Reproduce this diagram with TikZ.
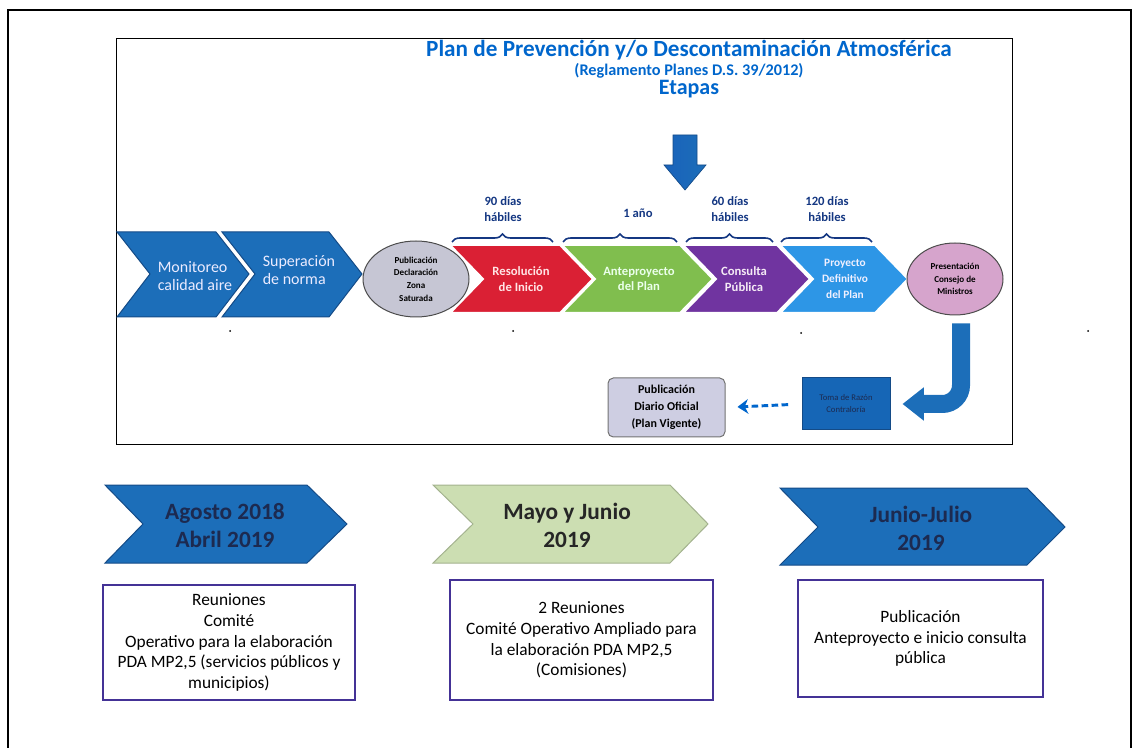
\documentclass[tikz,border=0pt]{standalone}
\usepackage{fontspec}
\setmainfont{Carlito}
\usetikzlibrary{shapes.geometric,arrows.meta,decorations.pathreplacing,calc}

\definecolor{titleblue}{RGB}{0,102,204}
\definecolor{bracenavy}{RGB}{20,55,130}
\definecolor{chevblue}{RGB}{28,110,185}
\definecolor{chevline}{RGB}{20,75,135}
\definecolor{resred}{RGB}{218,32,52}
\definecolor{antgreen}{RGB}{128,190,78}
\definecolor{conpurple}{RGB}{112,52,160}
\definecolor{proyblue}{RGB}{45,150,230}
\definecolor{zonagray}{RGB}{198,198,212}
\definecolor{prespink}{RGB}{214,164,204}
\definecolor{tomablue}{RGB}{22,102,182}
\definecolor{diariogray}{RGB}{206,206,226}
\definecolor{mayogreen}{RGB}{204,222,178}
\definecolor{boxnavy}{RGB}{68,50,150}
\definecolor{datenavy}{RGB}{28,42,80}

\tikzset{every picture/.style={line width=0.75pt}}
\tikzset{
  bigchev/.style={fill=chevblue, draw=chevline, line width=0.75},
  smallchev/.style={draw=white, line width=1.5},
  bigtext/.style={align=left, inner sep=0, text=blue!8, font=\fontsize{12}{13}\selectfont},
  smalltext/.style={align=center, inner sep=0, font=\bfseries\fontsize{9.5}{11.5}\selectfont},
  bracelbl/.style={align=center, inner sep=0, text=bracenavy, font=\bfseries\fontsize{9.5}{11.5}\selectfont},
  bracemark/.style={draw=bracenavy, line width=1.2, decorate, decoration={brace, amplitude=6pt}},
  ovaltext/.style={ellipse, draw=black!70, line width=0.75, inner sep=0, align=center, font=\bfseries\fontsize{6.8}{9.5}\selectfont},
  datetext/.style={align=center, inner sep=0, font=\bfseries\fontsize{17.5}{21}\selectfont},
  notebox/.style={draw=boxnavy, line width=1.5, fill=white, align=center, inner sep=0, font=\fontsize{13}{15.6}\selectfont}
}

\begin{document}
\begin{tikzpicture}[x=0.75pt,y=0.75pt,yscale=-1,xscale=1]
\useasboundingbox (0,0) rectangle (1139,748);

%Outer frame
\draw [line width=1.5]  (8,748) -- (8,10) -- (1131,10) -- (1131,748) ;
%Shape: Rectangle (inner frame)
\draw   (116,39) -- (1012,39) -- (1012,445) -- (116,445) -- cycle ;

% Text Node
\node [text=titleblue, font=\bfseries\fontsize{17.4}{20}\selectfont] (title) at (689,50) {Plan de Prevención y/o Descontaminación Atmosférica};
% Text Node
\node [text=titleblue, font=\bfseries\fontsize{12.2}{14}\selectfont] (regla) at (689,71) {(Reglamento Planes D.S. 39/2012)};
% Text Node
\node [text=titleblue, font=\bfseries\fontsize{16.5}{19}\selectfont] (etapas) at (689,89) {Etapas};

%Shape: Down Arrow
\shade [left color=blue!55!cyan!70!black!90, right color=chevblue, draw=chevline, line width=0.5] (673,135) -- (697,135) -- (697,165) -- (706,165) -- (685,190) -- (664,165) -- (673,165) -- cycle ;

%Shape: Chevron
\draw [bigchev] (117,232) -- (216,232) -- (249,274) -- (216,317) -- (117,317) -- (150,274) -- cycle ;
%Shape: Chevron
\draw [bigchev] (222,232) -- (329,232) -- (362,274) -- (329,317) -- (222,317) -- (255,274) -- cycle ;
% Text Node
\node [bigtext] (monit) at (195,276) {Monitoreo\\calidad aire};
% Text Node
\node [bigtext] (super) at (299,270) {Superación\\de norma};

%Shape: Ellipse
\node [ovaltext, fill=zonagray, minimum width=79.5pt, minimum height=57pt] (zona) at (416,279) {Publicación\\Declaración\\Zona\\Saturada};

%Shape: Chevron
\draw [smallchev, fill=resred] (450,245) -- (560,245) -- (593,279) -- (560,313) -- (450,313) -- (483,279) -- cycle ;
%Shape: Chevron
\draw [smallchev, fill=antgreen] (562,245) -- (680,245) -- (713,279) -- (680,313) -- (562,313) -- (595,279) -- cycle ;
%Shape: Chevron
\draw [smallchev, fill=conpurple] (683,245) -- (777,245) -- (810,279) -- (777,313) -- (683,313) -- (716,279) -- cycle ;
%Shape: Chevron
\draw [smallchev, fill=proyblue] (780,245) -- (875,245) -- (908,279) -- (875,313) -- (780,313) -- (813,279) -- cycle ;

% Text Node
\node [smalltext, text=red!10] (resol) at (521,279) {Resolución\\de Inicio};
% Text Node
\node [smalltext, text=green!8] (antep) at (639,279) {Anteproyecto\\del Plan};
% Text Node
\node [smalltext, text=violet!8] (consu) at (744,279) {Consulta\\Pública};
% Text Node
\node [smalltext, text=blue!6, font=\bfseries\fontsize{8.5}{12}\selectfont] (proye) at (845,279) {Proyecto\\Definitivo\\del Plan};

%Braces
\draw [bracemark] (452,242) -- (553,242) ;
\draw [bracemark] (563,242) -- (677,242) ;
\draw [bracemark] (686,242) -- (773,242) ;
\draw [bracemark] (781,242) -- (872,242) ;
% Text Node
\node [bracelbl] (d90) at (503,209) {90 días\\hábiles};
% Text Node
\node [bracelbl] (d1a) at (638,213) {1 año};
% Text Node
\node [bracelbl] (d60) at (730,209) {60 días\\hábiles};
% Text Node
\node [bracelbl] (d120) at (827,209) {120 días\\hábiles};

%Shape: Ellipse
\node [ovaltext, fill=prespink, minimum width=72pt, minimum height=54pt] (pres) at (955,279) {Presentación\\Consejo de\\Ministros};

%Dots
\fill (230,331) circle (1) ;
\fill (513,331) circle (1) ;
\fill (801,333) circle (1) ;
\fill (1088,331) circle (1) ;

%Shape: Rectangle
\node [draw=chevline, fill=tomablue, minimum width=66pt, minimum height=39pt, align=center, text=datenavy, font=\fontsize{6.5}{9}\selectfont] (toma) at (846,404) {Toma de Razón\\Contraloría};
%Shape: Rounded Rectangle
\node [draw=black!55, fill=diariogray, rounded corners=4pt, minimum width=87.75pt, minimum height=44.25pt, align=center, font=\bfseries\fontsize{9}{12.75}\selectfont] (diario) at (666.5,407.5) {Publicación\\Diario Oficial\\(Plan Vigente)};

%Curved Arrow
\draw [draw=chevblue, line width=13.5pt, rounded corners=14pt, shorten <=6pt, shorten >=9pt, -{Triangle[length=16pt,width=24pt]}] ($(pres.south)+(6,0)$) |- (toma.east) ;
%Dashed Arrow
\draw [draw=titleblue, line width=2.2, dash pattern={on 5pt off 2.5pt}, shorten <=10pt, shorten >=9pt, -{Stealth[length=8pt,width=11pt]}] (toma.west) -- (diario.east) ;

%Shape: Chevron
\draw [fill=chevblue, draw=chevline] (105,485) -- (307,485) -- (347,524) -- (307,563) -- (105,563) -- (143,524) -- cycle ;
%Shape: Chevron
\draw [fill=mayogreen, draw=mayogreen!80!black] (433,485) -- (670,485) -- (708,524) -- (670,563) -- (433,563) -- (473,524) -- cycle ;
%Shape: Chevron
\draw [fill=chevblue, draw=chevline] (780,488) -- (1027,488) -- (1065,527) -- (1027,565) -- (780,565) -- (818,527) -- cycle ;
% Text Node
\node [datetext, text=datenavy] (agost) at (225,526) {Agosto 2018\\Abril 2019};
% Text Node
\node [datetext, text=black!85] (mayo) at (567,525) {Mayo y Junio\\2019};
% Text Node
\node [datetext, text=datenavy] (junio) at (921,528) {Junio-Julio\\2019};

%Shape: Rectangle
\node [notebox, minimum width=189pt, minimum height=86.25pt] (reun1) at (229,642.5) {Reuniones\\Comité\\Operativo para la elaboración\\PDA MP2,5 (servicios públicos y\\municipios)};
%Shape: Rectangle
\node [notebox, minimum width=197.25pt, minimum height=90pt] (reun2) at (581.5,640) {2 Reuniones\\Comité Operativo Ampliado para\\la elaboración PDA MP2,5\\(Comisiones)};
%Shape: Rectangle
\node [notebox, minimum width=183.75pt, minimum height=87.75pt] (publi) at (920.5,638.5) {Publicación\\Anteproyecto e inicio consulta\\pública};

\end{tikzpicture}
\end{document}
